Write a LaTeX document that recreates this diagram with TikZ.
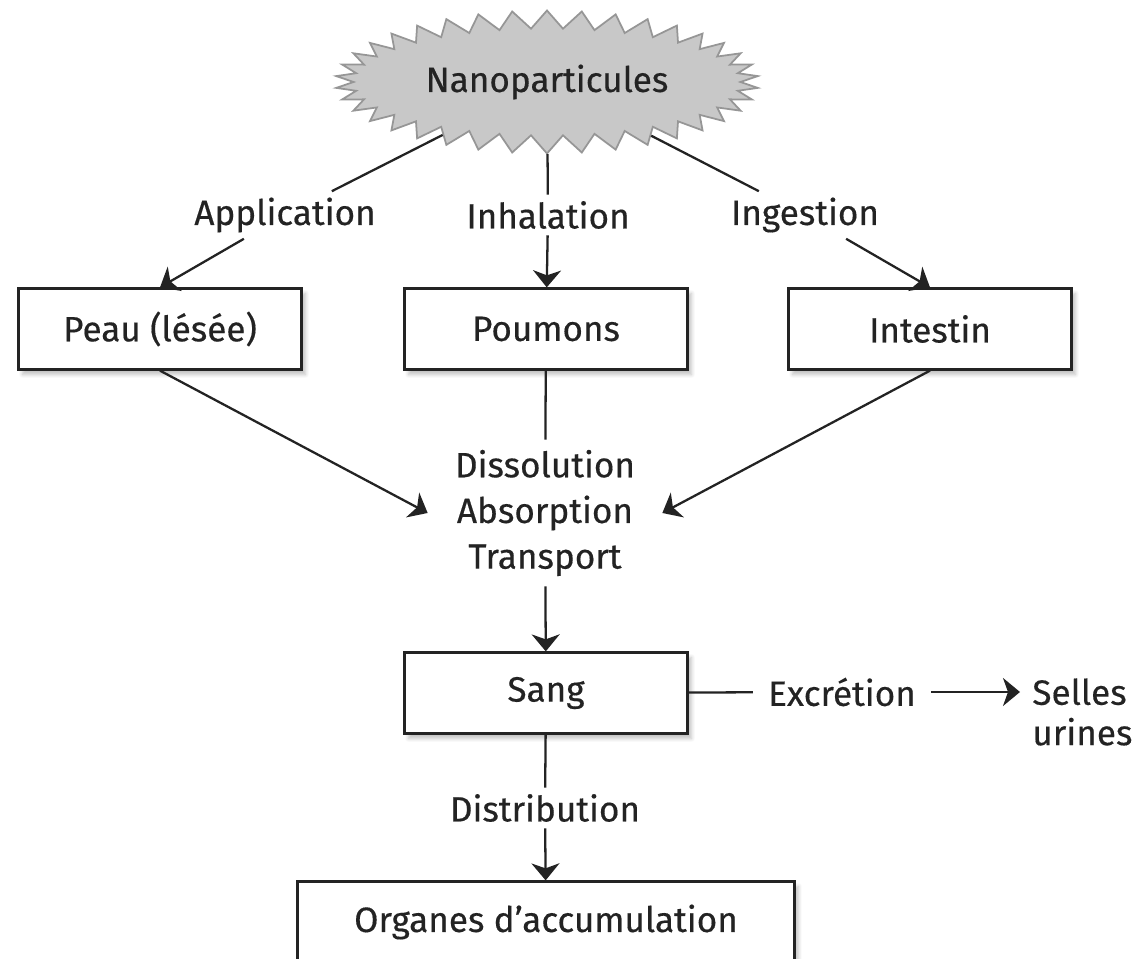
\documentclass[tikz,border=0pt]{standalone}
\usepackage{fontspec}
\setmainfont{Fira Sans}[FakeBold = 0.4]
\usetikzlibrary{arrows.meta, shapes.symbols, shadows.blur}
\definecolor{burstgray}{RGB}{200,200,200}
\definecolor{burstedge}{RGB}{150,150,150}
\definecolor{ink}{RGB}{35,35,35}
\begin{document}
\begin{tikzpicture}[x = 0.02cm, y = -0.02cm, font = \fontsize{20}{24}\selectfont, text = ink,
	organbox/.style = {draw = ink, line width = 1.3pt, fill = white, minimum width = 5.66cm, minimum height = 1.62cm,
		blur shadow = {shadow xshift = 0.08cm, shadow yshift = -0.1cm, shadow opacity = 25, shadow blur steps = 6}},
	route/.style = {inner sep = 0.12cm},
	flow/.style = {draw = ink, line width = 1.3pt},
	arrowed/.style = {-{Stealth[length = 0.34cm, width = 0.56cm, inset = 0.1cm]}}]
	\useasboundingbox (0,0) rectangle (1147,959);
	\clip (0,0) rectangle (1147,959);
	\node [shape = starburst, fill = burstgray, draw = burstedge, line width = 1pt, starburst points = 38,
		starburst point height = 0.36cm, random starburst = 0, minimum width = 8.46cm, minimum height = 2.86cm] (burst) at (547,82) {Nanoparticules};
	% voies d'entree
	\node [route] (app) at (285,215) {Application};
	\node [route] (inh) at (548,215) {Inhalation};
	\node [route] (ing) at (805,215) {Ingestion};
	\node [organbox] (peau) at (160,329) {Peau (lésée)};
	\node [organbox] (pou) at (546,329) {Poumons};
	\node [organbox] (int) at (930,329) {Intestin};
	\node [align = center, inner xsep = 0.54cm, inner ysep = 0.2cm, font = \fontsize{20}{26}\selectfont] (diss) at (545,513) {Dissolution\\Absorption\\Transport};
	\node [organbox] (sang) at (546,693) {Sang};
	\node [route, inner xsep = 0.3cm] (exc) at (842,692) {Excrétion};
	\node [anchor = west, align = left, inner xsep = 0.24cm, font = \fontsize{20}{23}\selectfont] (sel) at (1020,712) {Selles\\urines};
	\node [route] (dist) at (545,808) {Distribution};
	\node [organbox, minimum width = 9.94cm] (org) at (546,922) {Organes d’accumulation};
	% connecteurs
	\draw [flow] (burst) -- (app);
	\draw [flow, arrowed] (app) -- (peau.north);
	\draw [flow] (burst) -- (inh);
	\draw [flow, arrowed] (inh) -- (pou);
	\draw [flow] (burst) -- (ing);
	\draw [flow, arrowed] (ing) -- (int.north);
	\draw [flow, arrowed] (peau.south) -- (diss.west);
	\draw [flow] (pou) -- (diss);
	\draw [flow, arrowed] (int.south) -- (diss.east);
	\draw [flow, arrowed] (diss) -- (sang);
	\draw [flow] (sang) -- (exc);
	\draw [flow, arrowed] (exc.east) -- (exc.east -| sel.west);
	\draw [flow] (sang) -- (dist);
	\draw [flow, arrowed] (dist) -- (org);
\end{tikzpicture}
\end{document}
